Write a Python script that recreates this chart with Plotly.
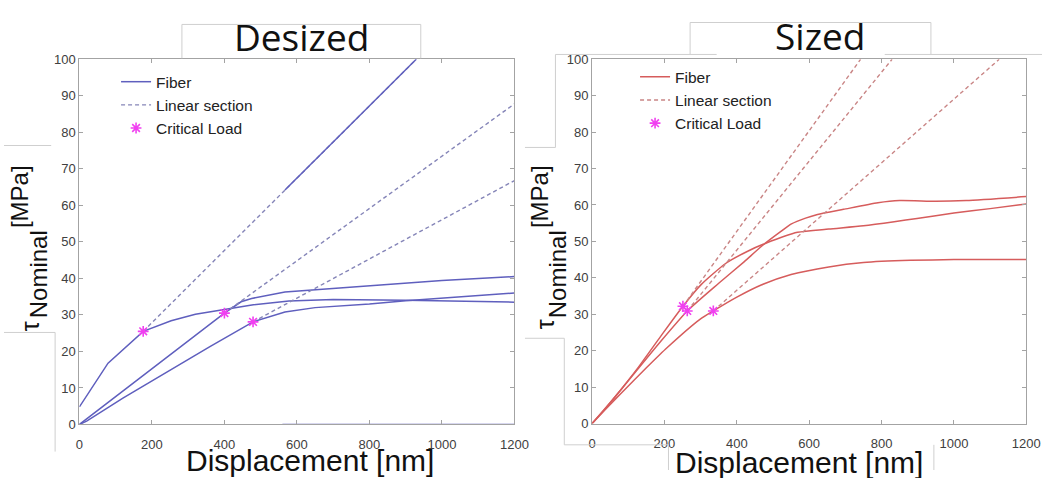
import plotly.graph_objects as go

W, H = 1056, 478

# ---------------- data: Desized (left) ----------------
ticks_x = [0, 200, 400, 600, 800, 1000, 1200]
ticks_y = [0, 10, 20, 30, 40, 50, 60, 70, 80, 90, 100]

des_A_x = [0, 79, 176, 253, 320, 398, 480, 578, 700, 900, 1200]
des_A_y = [4.8, 16.8, 25.5, 28.4, 30.2, 31.5, 32.8, 33.8, 34.2, 34.0, 33.5]
des_B_x = [0, 100, 200, 300, 400, 446, 475, 567, 800, 1000, 1200]
des_B_y = [0, 7.6, 15.2, 22.9, 30.5, 33.6, 34.5, 36.3, 38.0, 39.4, 40.5]
des_C_x = [0, 20, 120, 240, 360, 479, 567, 650, 800, 900, 1000, 1200]
des_C_y = [0, 0.9, 7.2, 14.3, 21.3, 28.1, 30.8, 32.0, 33.0, 33.9, 34.6, 36.0]
des_D_x = [560, 1200]
des_D_y = [0, 0]
des_E_x = [567, 929]
des_E_y = [64.2, 100]

des_lin = [
    ([176, 929], [25.5, 100]),
    ([400, 1200], [30.5, 87.8]),
    ([479, 1200], [28.1, 66.8]),
]
des_crit_x = [176, 400, 479]
des_crit_y = [25.5, 30.5, 28.1]

# ---------------- data: Sized (right) ----------------
siz_R1_x = [0, 40, 81, 126, 190, 263, 350, 420, 470, 520, 551, 590, 623, 695, 790, 850, 950, 1034, 1200]
siz_R1_y = [0, 4.5, 9.4, 14.9, 22.6, 30.9, 38.5, 44.4, 48.8, 52.6, 54.8, 56.4, 57.4, 58.8, 60.6, 61.2, 61.0, 61.2, 62.3]
siz_R2_x = [0, 40, 81, 126, 190, 251, 300, 370, 430, 480, 568, 654, 750, 835, 898, 1000, 1100, 1200]
siz_R2_y = [0, 4.6, 9.5, 15.2, 24.0, 32.2, 38.0, 44.0, 47.3, 49.5, 52.5, 53.4, 54.3, 55.4, 56.3, 57.8, 59.0, 60.3]
siz_R3_x = [0, 40, 81, 150, 207, 298, 335, 400, 469, 550, 654, 750, 880, 1000, 1200]
siz_R3_y = [0, 4.2, 8.4, 15.3, 20.8, 28.6, 30.9, 34.7, 38.1, 40.9, 43.0, 44.2, 44.8, 45.0, 45.0]

siz_lin = [
    ([251, 742], [32.2, 100]),
    ([263, 829], [30.9, 100]),
    ([335, 1125], [30.9, 100]),
]
siz_crit_x = [251, 263, 335]
siz_crit_y = [32.2, 30.9, 30.9]

# ---------------- styles ----------------
BLUE = "#5f5fbe"
BLUE_D = "#8585b8"
RED = "#d65c5c"
RED_D = "#c98585"
MAG = "#f040f0"
DASH = "4px,3px"

fig = go.Figure()


def add_panel(curves, lines, cx, cy, solid, dashed, xa, ya, leg, spline):
    first = True
    for (x, y) in curves:
        fig.add_trace(go.Scatter(
            x=x, y=y, mode="lines", name="Fiber", legend=leg,
            legendgroup=leg + "f", showlegend=first, xaxis=xa, yaxis=ya,
            line=dict(color=solid, width=1.5,
                      shape="spline" if spline else "linear", smoothing=0.6),
            hoverinfo="skip"))
        first = False
    first = True
    for (x, y) in lines:
        fig.add_trace(go.Scatter(
            x=x, y=y, mode="lines", name="Linear section", legend=leg,
            legendgroup=leg + "l", showlegend=first, xaxis=xa, yaxis=ya,
            line=dict(color=dashed, width=1.4, dash=DASH), hoverinfo="skip"))
        first = False
    fig.add_trace(go.Scatter(
        x=cx, y=cy, mode="markers", name="Critical Load", legend=leg,
        xaxis=xa, yaxis=ya,
        marker=dict(symbol="asterisk-open", size=9, color=MAG,
                    line=dict(color=MAG, width=1.6)),
        hoverinfo="skip"))


add_panel([(des_A_x, des_A_y), (des_B_x, des_B_y), (des_C_x, des_C_y)],
          des_lin, des_crit_x, des_crit_y, BLUE, BLUE_D, "x", "y", "legend", False)
# extra fiber segments (no legend)
for (x, y) in [(des_D_x, des_D_y), (des_E_x, des_E_y)]:
    fig.add_trace(go.Scatter(x=x, y=y, mode="lines", showlegend=False,
                             xaxis="x", yaxis="y", line=dict(color=BLUE, width=1.5),
                             hoverinfo="skip"))
add_panel([(siz_R1_x, siz_R1_y), (siz_R2_x, siz_R2_y), (siz_R3_x, siz_R3_y)],
          siz_lin, siz_crit_x, siz_crit_y, RED, RED_D, "x2", "y2", "legend2", True)


def px(x):
    return x / W


def py(y):
    return 1 - y / H


axis_common = dict(showline=True, mirror="ticks", linecolor="#a3a3a3", linewidth=1,
                   ticks="inside", ticklen=4, tickcolor="#a3a3a3", showgrid=False,
                   zeroline=False, tickfont=dict(family="Liberation Sans, Arial", size=13, color="#404040"))

fig.update_layout(
    width=W, height=H, margin=dict(l=0, r=0, t=0, b=0),
    paper_bgcolor="white", plot_bgcolor="white",
    xaxis=dict(domain=[px(76.7), px(519.3)], range=[0, 1200], anchor="y",
               tickvals=ticks_x, ticklabelstandoff=8, **axis_common),
    yaxis=dict(domain=[py(431), py(54)], range=[0, 100], anchor="x",
               tickvals=ticks_y, **axis_common),
    xaxis2=dict(domain=[px(598.3), px(1040)], range=[0, 1200], anchor="y2",
                tickvals=ticks_x, ticklabelstandoff=8, **axis_common),
    yaxis2=dict(domain=[py(430), py(54)], range=[0, 100], anchor="x2",
                tickvals=ticks_y, **axis_common),
    legend=dict(x=px(114), y=py(60), xanchor="left", yanchor="top",
                bgcolor="rgba(0,0,0,0)", tracegroupgap=0,
                font=dict(family="Liberation Sans, Arial", size=15.5, color="#222")),
    legend2=dict(x=px(642), y=py(55), xanchor="left", yanchor="top",
                 bgcolor="rgba(0,0,0,0)", tracegroupgap=0,
                 font=dict(family="Liberation Sans, Arial", size=15.5, color="#222")),
)

GRAY = "#cfcfcf"
shapes = []


def seg(x0, y0, x1, y1, color=GRAY):
    shapes.append(dict(type="line", xref="paper", yref="paper",
                       x0=px(x0), y0=py(y0), x1=px(x1), y1=py(y1),
                       line=dict(color=color, width=1)))


# title boxes (open at bottom)
seg(181, 18, 424, 18)
seg(181, 18, 181, 53)
seg(424, 18, 424, 53)
seg(698, 16, 943, 16)
seg(698, 16, 698, 49)
seg(943, 16, 943, 49)
# faint screenshot frames
seg(561, 49, 725, 49)
seg(896, 49, 1056, 49)
seg(561, 49, 561, 145)
seg(530, 145, 561, 145)
seg(0, 143, 48, 143)
seg(0, 336, 52, 336)
seg(52, 336, 52, 459)
seg(530, 342, 570, 342)
seg(570, 342, 570, 452)
seg(570, 452, 676, 452)
seg(676, 452, 676, 478)
seg(946, 452, 946, 478)
fig.update_layout(shapes=shapes)

ann = []


def text(x, y, s, size, family="Liberation Sans, Arial", angle=0, color="#111"):
    ann.append(dict(xref="paper", yref="paper", x=px(x), y=py(y), text=s,
                    showarrow=False, xanchor="center", yanchor="middle",
                    textangle=angle, font=dict(family=family, size=size, color=color)))


text(303, 30, "Desized", 37, family="Open Sans")
text(830, 29, "Sized", 37, family="Open Sans")
text(311, 468, "Displacement [nm]", 30)
text(809, 470, "Displacement [nm]", 30)
# y labels: tau_Nominal [MPa]
text(16.5, 196, "[MPa]", 24, angle=-90)
text(34.5, 276, "Nominal", 24, angle=-90)
text(26, 330, "τ", 25, angle=-90)
text(545.5, 196, "[MPa]", 24, angle=-90)
text(562.5, 276, "Nominal", 24, angle=-90)
text(550, 328, "τ", 25, angle=-90)
fig.update_layout(annotations=ann)

fig.write_html("out.html", config={"displayModeBar": False},
               post_script="document.body.style.margin='0';document.body.style.overflow='hidden';")
